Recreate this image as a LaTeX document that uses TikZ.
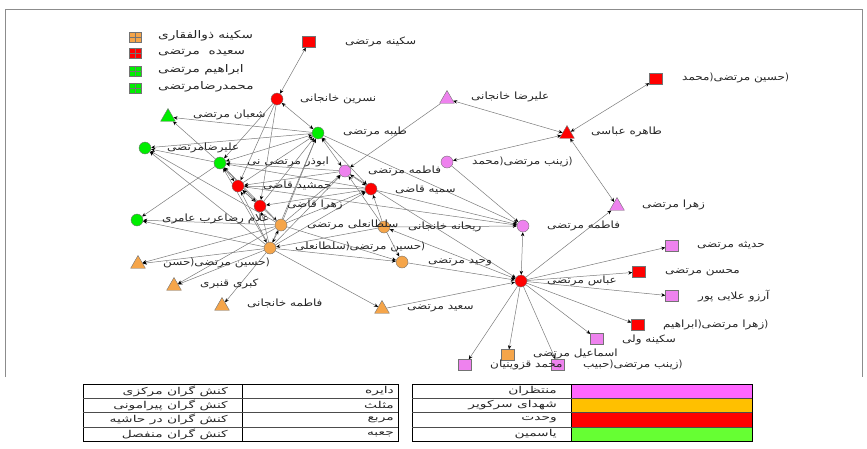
\documentclass[tikz,border=0pt]{standalone}
\usepackage{fontspec}
\setmainfont{DejaVu Sans}
\newfontfamily\arabicfont[Script=Arabic,FakeStretch=1.2]{DejaVu Sans}
\newfontfamily\arabictbl[Script=Arabic,FakeStretch=1.45]{DejaVu Sans}
\newfontfamily\arabiclgd[Script=Arabic,FakeStretch=1.3]{DejaVu Sans}
\TeXXeTstate=1
\usetikzlibrary{shapes.geometric,arrows.meta}
\newcommand\fa[1]{{\arabicfont\beginR #1\endR}}
\newcommand\fat[1]{{\arabictbl\beginR #1\endR}}
\newcommand\fal[1]{{\arabiclgd\beginR #1\endR}}
\definecolor{cred}{HTML}{FF0000}
\definecolor{cgreen}{HTML}{00EE00}
\definecolor{cpink}{HTML}{EE82EE}
\definecolor{corange}{HTML}{F5A54A}
\definecolor{cedge}{HTML}{7A7A7A}
\definecolor{tpink}{HTML}{FF66FF}
\definecolor{torange}{HTML}{FFC000}
\definecolor{tgreen}{HTML}{66FF33}
\pgfdeclarelayer{bg}
\pgfsetlayers{bg,main}
\tikzset{
  every node/.style={inner sep=0pt},
  actor/.style={draw=black!55, line width=0.4pt},
  circ/.style={actor, circle, minimum size=12pt},
  tri/.style={actor, regular polygon, regular polygon sides=3, minimum size=17pt},
  sqr/.style={actor, rectangle, minimum width=13pt, minimum height=11pt},
  lgd/.style={actor, rectangle, minimum width=12pt, minimum height=10pt,
    path picture={\draw[black!55] (path picture bounding box.north) -- (path picture bounding box.south)
      (path picture bounding box.west) -- (path picture bounding box.east);}},
  lab/.style={anchor=west, font=\fontsize{10}{11}\selectfont, text=black!85},
  lgt/.style={anchor=west, font=\fontsize{10.5}{11}\selectfont, text=black!85},
  cell/.style={anchor=east, font=\fontsize{9.5}{10}\selectfont, text=black!85},
  ed/.style={draw=cedge, line width=0.5pt, -{Stealth[length=4pt,width=3.5pt,color=black]}},
  bd/.style={draw=cedge, line width=0.5pt, {Stealth[length=4pt,width=3.5pt,color=black]}-{Stealth[length=4pt,width=3.5pt,color=black]}},
  frm/.style={draw=black!45, line width=1pt},
  tbl/.style={draw=black, line width=0.8pt},
  tln/.style={draw=black!70, line width=0.5pt}
}
\begin{document}
\begin{tikzpicture}[x=1pt,y=-1pt]
\useasboundingbox (0,0) rectangle (867,448);
\draw[frm] (5,377) -- (5,9) -- (862,9) -- (862,377);

% legend
\node[lgd, fill=corange] (g1) at (135,37) {};
\node[lgd, fill=cred] (g2) at (135,53) {};
\node[lgd, fill=cgreen] (g3) at (135,71) {};
\node[lgd, fill=cgreen] (g4) at (135,88) {};
\node[lgt] (g1t) at (158,36) {\fal{سکینه ذوالفقاری}};
\node[lgt] (g2t) at (158,53) {\fal{سعیده\ \ مرتضی}};
\node[lgt] (g3t) at (158,70) {\fal{ابراهیم مرتضی}};
\node[lgt] (g4t) at (158,87) {\fal{محمدرضامرتضی}};

% actors
\node[sqr, fill=cred] (sm) at (309,42) {};
\node[sqr, fill=cred] (hm) at (656,79) {};
\node[circ, fill=cred] (nk) at (277,99) {};
\node[tri, fill=cpink] (ak) at (447,99) {};
\node[tri, fill=cgreen] (sh) at (168,117) {};
\node[circ, fill=cgreen] (tm) at (318,133) {};
\node[tri, fill=cred] (ta) at (567,134) {};
\node[circ, fill=cgreen] (am) at (145,148) {};
\node[circ, fill=cpink] (zm) at (447,162) {};
\node[circ, fill=cgreen] (ab) at (220,163) {};
\node[circ, fill=cpink] (fm) at (345,171) {};
\node[circ, fill=cred] (sq) at (371,189) {};
\node[circ, fill=cred] (jq) at (238,186) {};
\node[circ, fill=cred] (zq) at (260,206) {};
\node[tri, fill=cpink] (zmt) at (617,206) {};
\node[circ, fill=cgreen] (ga) at (137,220) {};
\node[circ, fill=corange] (sa) at (281,225) {};
\node[circ, fill=corange] (rk) at (384,227) {};
\node[circ, fill=cpink] (fm2) at (523,226) {};
\node[circ, fill=corange] (hs) at (270,248) {};
\node[tri, fill=corange] (hh) at (138,264) {};
\node[circ, fill=corange] (vm) at (402,262) {};
\node[circ, fill=cred] (abm) at (521,281) {};
\node[tri, fill=corange] (ks) at (174,286) {};
\node[tri, fill=corange] (fk) at (222,306) {};
\node[tri, fill=corange] (sam) at (382,309) {};
\node[sqr, fill=cpink] (hdm) at (672,246) {};
\node[sqr, fill=cred] (mm) at (639,272) {};
\node[sqr, fill=cpink] (aap) at (672,296) {};
\node[sqr, fill=cred] (zma) at (638,325) {};
\node[sqr, fill=cpink] (sv) at (597,339) {};
\node[sqr, fill=corange] (em) at (508,355) {};
\node[sqr, fill=cpink] (mq) at (465,365) {};
\node[sqr, fill=cpink] (zmh) at (558,365) {};

% labels
\node[lab] (smL) at (345,42) {\fa{سکینه مرتضی}};
\node[lab] (hmL) at (682,78) {\fa{محمد})\fa{حسین مرتضی})};
\node[lab] (nkL) at (300,99) {\fa{نسرین خانجانی}};
\node[lab] (akL) at (471,97) {\fa{علیرضا خانجانی}};
\node[lab] (shL) at (193,115) {\fa{شعبان مرتضی}};
\node[lab] (tmL) at (343,132) {\fa{طیبه مرتضی}};
\node[lab] (taL) at (591,132) {\fa{طاهره عباسی}};
\node[lab] (amL) at (167,148) {\fa{علیرضامرتضی}};
\node[lab] (zmL) at (472,162) {\fa{محمد})\fa{زینب مرتضی})};
\node[lab] (abL) at (247,162) {\fa{ابوذر مرتضی نی}};
\node[lab] (fmL) at (368,171) {\fa{فاطمه مرتضی}};
\node[lab] (sqL) at (395,189) {\fa{سمیه قاضی}};
\node[lab] (jqL) at (263,185) {\fa{جمشید قاضی}};
\node[lab] (zqL) at (287,205) {\fa{زهرا قاضی}};
\node[lab] (zmtL) at (642,205) {\fa{زهرا مرتضی}};
\node[lab] (gaL) at (162,219) {\fa{غلام رضاعرب عامری}};
\node[lab] (saL) at (307,225) {\fa{سلطانعلی مرتضی}};
\node[lab] (rkL) at (408,227) {\fa{ریحانه خانجانی}};
\node[lab] (fm2L) at (547,226) {\fa{فاطمه مرتضی}};
\node[lab] (hsL) at (295,247) {\fa{سلطانعلی})\fa{حسین مرتضی})};
\node[lab] (hhL) at (163,263) {\fa{حسن})\fa{حسین مرتضی})};
\node[lab] (vmL) at (428,262) {\fa{وحید مرتضی}};
\node[lab] (abmL) at (547,281) {\fa{عباس مرتضی}};
\node[lab] (ksL) at (200,284) {\fa{کبری قنبری}};
\node[lab] (fkL) at (247,303) {\fa{فاطمه خانجانی}};
\node[lab] (samL) at (407,308) {\fa{سعید مرتضی}};
\node[lab] (hdmL) at (697,246) {\fa{حدیثه مرتضی}};
\node[lab] (mmL) at (665,272) {\fa{محسن مرتضی}};
\node[lab] (aapL) at (698,296) {\fa{آرزو علایی پور}};
\node[lab] (zmaL) at (663,325) {\fa{ابراهیم})\fa{زهرا مرتضی})};
\node[lab] (svL) at (622,340) {\fa{سکینه ولی}};
\node[lab] (emL) at (533,354) {\fa{اسماعیل مرتضی}};
\node[lab] (mqL) at (490,365) {\fa{محمد قزوینیان}};
\node[lab] (zmhL) at (583,365) {\fa{حبیب})\fa{زینب مرتضی})};

% ties
\begin{pgfonlayer}{bg}
\draw[bd] (sm) -- (nk);
\draw[bd] (hm) -- (ta);
\draw[bd] (ak) -- (ta);
\draw[ed] (ak) -- (fm);
\draw[bd] (ta) -- (zm);
\draw[bd] (ta) -- (zmt);
\draw[ed] (zm) -- (fm2);
\draw[ed] (sq) -- (fm2);
\draw[ed] (tm) -- (fm2);
\draw[ed] (jq) -- (fm2);
\draw[ed] (rk) -- (fm2);
\draw[bd] (fm2) -- (abm);
\draw[ed] (abm) -- (zmt);
\foreach \t in {hdm,mm,aap,zma,sv,em,mq,zmh} \draw[ed] (abm) -- (\t);
\draw[ed] (vm) -- (abm);
\draw[ed] (sam) -- (abm);
\draw[bd] (rk) -- (abm);
\draw[ed] (fm) -- (abm);
% left cluster
\draw[bd] (nk) -- (tm);
\draw[ed] (nk) -- (ab);
\draw[ed] (nk) -- (jq);
\draw[ed] (nk) -- (zq);
\draw[ed] (tm) -- (sh);
\draw[ed] (ab) -- (sh);
\draw[ed] (ab) -- (am);
\draw[ed] (tm) -- (am);
\draw[ed] (hs) -- (am);
\draw[ed] (sa) -- (am);
\draw[ed] (ab) -- (ga);
\draw[ed] (sa) -- (ga);
\draw[ed] (hs) -- (ga);
\draw[bd] (ab) -- (tm);
\draw[bd] (ab) -- (jq);
\draw[bd] (ab) -- (zq);
\draw[bd] (ab) -- (hs);
\draw[bd] (ab) -- (sa);
\draw[ed] (fm) -- (ab);
\draw[ed] (sq) -- (ab);
\draw[ed] (jq) -- (tm);
\draw[ed] (zq) -- (tm);
\draw[ed] (hs) -- (tm);
\draw[ed] (sa) -- (tm);
\draw[bd] (tm) -- (fm);
\draw[bd] (tm) -- (sq);
\draw[bd] (jq) -- (zq);
\draw[ed] (hs) -- (jq);
\draw[ed] (sa) -- (jq);
\draw[ed] (fm) -- (jq);
\draw[ed] (sq) -- (jq);
\draw[ed] (hs) -- (zq);
\draw[ed] (sq) -- (zq);
\draw[ed] (hs) -- (fm);
\draw[ed] (sa) -- (fm);
\draw[ed] (rk) -- (fm);
\draw[bd] (fm) -- (sq);
\draw[ed] (rk) -- (sq);
\draw[ed] (hs) -- (sq);
\draw[ed] (sa) -- (sq);
\draw[bd] (sa) -- (hs);
\draw[ed] (rk) -- (hs);
\draw[ed] (hs) -- (hh);
\draw[ed] (sa) -- (hh);
\draw[ed] (hs) -- (ks);
\draw[ed] (sa) -- (ks);
\draw[ed] (hs) -- (fk);
\draw[ed] (hs) -- (sam);
\draw[ed] (hs) -- (vm);
\draw[ed] (sa) -- (vm);
\draw[ed] (rk) -- (vm);
\end{pgfonlayer}

% tables
\draw[tbl] (83,384) rectangle (398,441);
\draw[tbl] (242,384) -- (242,441);
\foreach \yy in {398.25,412.5,426.75} \draw[tln] (83,\yy) -- (398,\yy);
\node[cell] (c11) at (228,391.1) {\fat{کنش گران مرکزی}};
\node[cell] (c21) at (228,405.4) {\fat{کنش گران پیرامونی}};
\node[cell] (c31) at (228,419.6) {\fat{کنش گران در حاشیه}};
\node[cell] (c41) at (228,433.9) {\fat{کنش گران منفصل}};
\node[cell] (c12) at (394,391.1) {\fat{دایره}};
\node[cell] (c22) at (394,405.4) {\fat{مثلث}};
\node[cell] (c32) at (394,419.6) {\fat{مربع}};
\node[cell] (c42) at (394,433.9) {\fat{جعبه}};

\fill[tpink] (571,384) rectangle (752,398.25);
\fill[torange] (571,398.25) rectangle (752,412.5);
\fill[cred] (571,412.5) rectangle (752,426.75);
\fill[tgreen] (571,426.75) rectangle (752,441);
\draw[tbl] (412,384) rectangle (752,441);
\draw[tbl] (571,384) -- (571,441);
\foreach \yy in {398.25,412.5,426.75} \draw[tln] (412,\yy) -- (752,\yy);
\node[cell] (d1) at (557,391.1) {\fat{منتظران}};
\node[cell] (d2) at (557,405.4) {\fat{شهدای سرکویر}};
\node[cell] (d3) at (557,419.6) {\fat{وحدت}};
\node[cell] (d4) at (557,433.9) {\fat{یاسمین}};
\end{tikzpicture}
\end{document}
